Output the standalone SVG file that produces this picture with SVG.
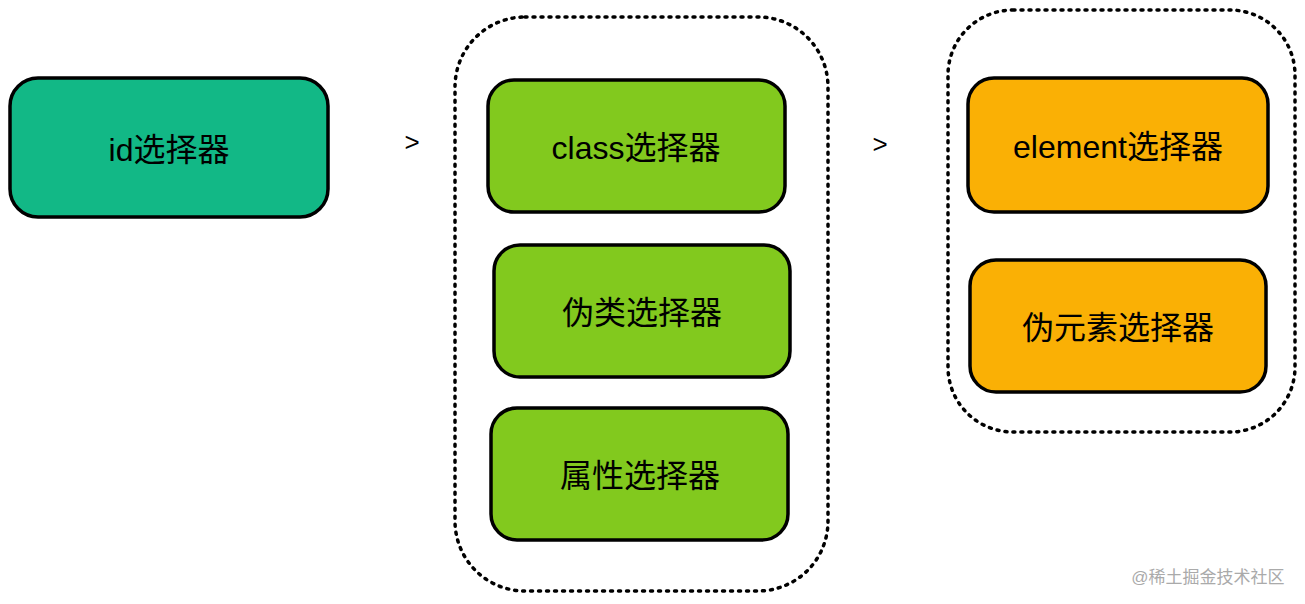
<svg xmlns="http://www.w3.org/2000/svg" width="1305" height="604" viewBox="0 0 1305 604">
<style>
.n{stroke:#000;stroke-width:3.5}
.t{font-family:"Liberation Sans","Noto Sans CJK SC",sans-serif;font-size:32px;text-anchor:middle;dominant-baseline:central;fill:#000}
.g{fill:none;stroke:#000;stroke-width:3.5;stroke-dasharray:2 6;stroke-linecap:round}
</style>
<rect width="1305" height="604" fill="#fff"/>
<g id="groups">
<rect class="g" x="455" y="17" width="373" height="574" rx="70"/>
<rect class="g" x="948" y="10" width="347" height="422" rx="65"/>
</g>
<g id="id"><rect class="n" x="10" y="78" width="318" height="139" rx="28" fill="#12B886"/><text class="t" x="169" y="150">id选择器</text></g>
<g id="class"><rect class="n" x="488" y="80" width="297" height="132" rx="26" fill="#82C91E"/><text class="t" x="636" y="148">class选择器</text></g>
<g id="pseudo"><rect class="n" x="494" y="245" width="296" height="132" rx="26" fill="#82C91E"/><text class="t" x="642" y="313">伪类选择器</text></g>
<g id="attr"><rect class="n" x="491" y="408" width="297" height="132" rx="26" fill="#82C91E"/><text class="t" x="640" y="476">属性选择器</text></g>
<g id="element"><rect class="n" x="968" y="78" width="300" height="134" rx="26" fill="#FAB005"/><text class="t" x="1118" y="147">element选择器</text></g>
<g id="pseudoel"><rect class="n" x="970" y="260" width="296" height="132" rx="26" fill="#FAB005"/><text class="t" x="1118" y="328">伪元素选择器</text></g>
<g id="connectors">
<text class="t" x="412" y="142" style="font-size:26px">&gt;</text>
<text class="t" x="880" y="144" style="font-size:26px">&gt;</text>
</g>
<text x="1208" y="577" style="font-family:'Liberation Sans','Noto Sans CJK SC',sans-serif;font-size:17px;text-anchor:middle;dominant-baseline:central;fill:#aaa">@稀土掘金技术社区</text>
</svg>
